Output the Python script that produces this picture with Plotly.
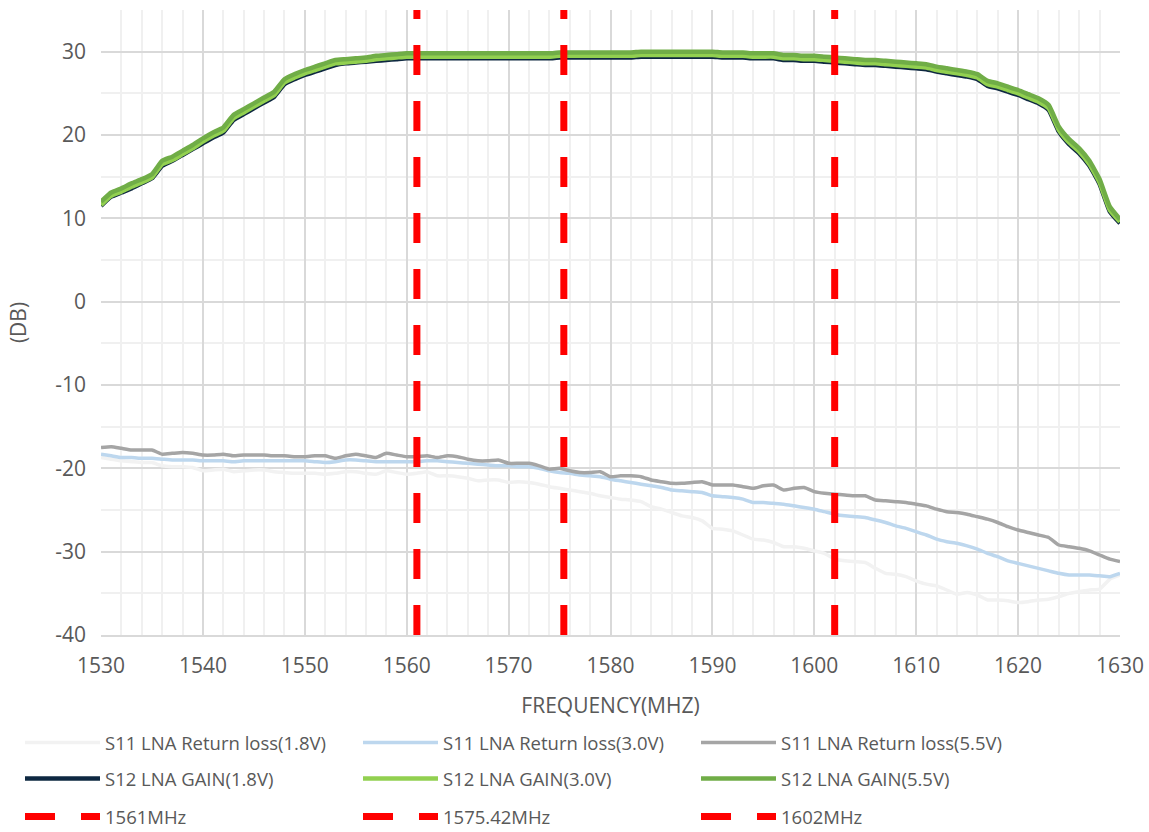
import plotly.graph_objects as go

freq = list(range(1530, 1631))

s11_18 = [-18.7,-18.9,-19.1,-19.2,-19.3,-19.3,-19.7,-19.8,-19.8,-19.9,
          -20.3,-20.2,-20.1,-20.4,-20.3,-20.2,-20.2,-20.4,-20.5,-20.6,
          -20.6,-20.6,-20.7,-20.6,-20.4,-20.4,-20.6,-20.7,-20.3,-20.5,
          -20.7,-20.6,-20.4,-20.9,-20.9,-21.0,-21.2,-21.5,-21.4,-21.4,
          -21.7,-21.6,-21.7,-21.9,-22.2,-22.4,-22.6,-22.8,-23.0,-23.3,
          -23.5,-23.7,-23.8,-24.0,-24.6,-24.9,-25.3,-25.7,-25.9,-26.3,
          -27.2,-27.3,-27.5,-28.0,-28.5,-28.6,-28.9,-29.4,-29.4,-29.6,
          -29.9,-30.2,-30.9,-31.1,-31.2,-31.3,-32.0,-32.6,-32.7,-33.0,
          -33.5,-33.9,-34.1,-34.6,-35.1,-34.9,-35.2,-35.8,-35.8,-35.9,
          -36.1,-36.0,-35.8,-35.7,-35.4,-35.0,-34.8,-34.6,-34.5,-33.3,
          -32.8]

s11_30 = [-18.3,-18.5,-18.7,-18.7,-18.8,-18.8,-18.9,-19.0,-19.0,-19.0,
          -19.1,-19.1,-19.1,-19.2,-19.1,-19.1,-19.1,-19.1,-19.1,-19.1,
          -19.1,-19.2,-19.3,-19.2,-19.0,-19.0,-19.1,-19.2,-19.2,-19.2,
          -19.2,-19.2,-19.1,-19.1,-19.2,-19.3,-19.4,-19.5,-19.6,-19.7,
          -19.7,-19.8,-19.8,-20.0,-20.3,-20.5,-20.6,-20.8,-20.9,-21.0,
          -21.3,-21.5,-21.7,-21.9,-22.1,-22.3,-22.6,-22.7,-22.8,-22.9,
          -23.3,-23.4,-23.5,-23.7,-24.1,-24.1,-24.2,-24.3,-24.5,-24.7,
          -24.9,-25.2,-25.5,-25.7,-25.8,-25.9,-26.2,-26.5,-26.9,-27.2,
          -27.6,-28.0,-28.5,-28.8,-29.0,-29.3,-29.7,-30.2,-30.6,-31.1,
          -31.4,-31.7,-32.0,-32.3,-32.6,-32.8,-32.8,-32.8,-32.9,-33.0,
          -32.6]

s11_55 = [-17.5,-17.4,-17.6,-17.8,-17.8,-17.8,-18.3,-18.2,-18.1,-18.2,
          -18.4,-18.4,-18.3,-18.5,-18.4,-18.4,-18.4,-18.5,-18.5,-18.6,
          -18.6,-18.5,-18.5,-18.8,-18.5,-18.3,-18.5,-18.7,-18.2,-18.4,
          -18.6,-18.6,-18.5,-18.7,-18.5,-18.6,-18.9,-19.1,-19.1,-19.0,
          -19.4,-19.4,-19.4,-19.7,-20.1,-20.0,-20.3,-20.5,-20.5,-20.4,
          -21.0,-20.9,-20.9,-21.0,-21.4,-21.6,-21.8,-21.8,-21.7,-21.6,
          -22.0,-22.0,-22.0,-22.2,-22.4,-22.1,-22.0,-22.6,-22.4,-22.3,
          -22.8,-23.0,-23.1,-23.2,-23.3,-23.3,-23.8,-23.9,-24.0,-24.1,
          -24.3,-24.5,-24.9,-25.2,-25.3,-25.5,-25.8,-26.1,-26.5,-27.0,
          -27.4,-27.7,-28.0,-28.3,-29.2,-29.4,-29.6,-29.9,-30.4,-30.9,
          -31.2]

gain_18 = [11.5,12.6,13.1,13.6,14.2,14.8,16.3,16.9,17.6,18.3,
           19.0,19.7,20.3,21.8,22.5,23.2,23.9,24.6,26.1,26.7,
           27.2,27.6,28.0,28.4,28.6,28.7,28.8,28.9,29.0,29.1,
           29.2,29.2,29.2,29.2,29.2,29.2,29.2,29.2,29.2,29.2,
           29.2,29.2,29.2,29.2,29.2,29.3,29.3,29.3,29.3,29.3,
           29.3,29.3,29.3,29.4,29.4,29.4,29.4,29.4,29.4,29.4,
           29.4,29.3,29.3,29.3,29.2,29.2,29.2,29.0,29.0,28.9,
           28.9,28.8,28.7,28.6,28.5,28.4,28.4,28.3,28.2,28.1,
           28.0,27.9,27.6,27.4,27.2,27.0,26.7,25.9,25.6,25.2,
           24.8,24.3,23.8,23.0,20.4,18.9,17.8,16.3,14.1,10.8,
           9.4]

gain_30 = [11.6,12.7,13.2,13.8,14.3,14.9,16.5,17.0,17.7,18.4,
           19.2,19.9,20.5,22.0,22.7,23.4,24.1,24.8,26.3,26.9,
           27.4,27.8,28.2,28.6,28.7,28.8,28.9,29.1,29.2,29.3,
           29.4,29.4,29.4,29.4,29.4,29.4,29.4,29.4,29.4,29.4,
           29.4,29.4,29.4,29.4,29.4,29.5,29.5,29.5,29.5,29.5,
           29.5,29.5,29.5,29.6,29.6,29.6,29.6,29.6,29.6,29.6,
           29.6,29.5,29.5,29.5,29.4,29.4,29.4,29.2,29.2,29.1,
           29.1,29.0,28.9,28.8,28.7,28.6,28.6,28.5,28.4,28.3,
           28.2,28.1,27.8,27.6,27.4,27.2,26.9,26.1,25.8,25.4,
           25.0,24.5,24.0,23.2,20.6,19.1,18.0,16.5,14.3,11.0,
           9.6]

gain_55 = [12.0,13.1,13.6,14.2,14.7,15.3,16.9,17.4,18.1,18.8,
           19.6,20.3,20.9,22.4,23.1,23.8,24.5,25.2,26.7,27.3,
           27.8,28.2,28.6,29.0,29.1,29.2,29.3,29.5,29.6,29.7,
           29.8,29.8,29.8,29.8,29.8,29.8,29.8,29.8,29.8,29.8,
           29.8,29.8,29.8,29.8,29.8,29.9,29.9,29.9,29.9,29.9,
           29.9,29.9,29.9,30.0,30.0,30.0,30.0,30.0,30.0,30.0,
           30.0,29.9,29.9,29.9,29.8,29.8,29.8,29.6,29.6,29.5,
           29.5,29.4,29.3,29.2,29.1,29.0,29.0,28.9,28.8,28.7,
           28.6,28.5,28.2,28.0,27.8,27.6,27.3,26.5,26.2,25.8,
           25.4,24.9,24.4,23.6,21.0,19.5,18.4,16.9,14.7,11.4,
           9.9]

marker_freqs = [1561, 1575.42, 1602]
marker_names = ["1561MHz", "1575.42MHz", "1602MHz"]

y_ticks = [-40, -30, -20, -10, 0, 10, 20, 30]
y_tick_labels = ["-40", "-30", "-20", "-10", "0", "10", "20", "30"]

y_min, y_max = -40, 35
x_min, x_max = 1530, 1630

fig = go.Figure()

s11_series = [
    ("S11 LNA Return loss(1.8V)", s11_18, "#f2f2f2"),
    ("S11 LNA Return loss(3.0V)", s11_30, "#bdd7ee"),
    ("S11 LNA Return loss(5.5V)", s11_55, "#a5a5a5"),
]
for name, ys, col in s11_series:
    fig.add_trace(go.Scatter(x=freq, y=ys, name=name, mode="lines",
                             line=dict(color=col, width=3.5, shape="spline", smoothing=0.4),
                             legend="legend"))

gain_series = [
    ("S12 LNA GAIN(1.8V)", gain_18, "#0e2841"),
    ("S12 LNA GAIN(3.0V)", gain_30, "#92d050"),
    ("S12 LNA GAIN(5.5V)", gain_55, "#70ad47"),
]
for name, ys, col in gain_series:
    fig.add_trace(go.Scatter(x=freq, y=ys, name=name, mode="lines",
                             line=dict(color=col, width=4.5, shape="spline", smoothing=0.4),
                             legend="legend2"))

for f, name in zip(marker_freqs, marker_names):
    fig.add_trace(go.Scatter(x=[f, f], y=[y_min, y_max], name=name, mode="lines",
                             line=dict(color="#ff0000", width=7, dash="30px,26px"),
                             legend="legend3"))

font_fam = "Open Sans"
txt = "#595959"

leg_common = dict(orientation="h", xanchor="left", yanchor="middle",
                  xref="container", yref="container",
                  entrywidth=248, entrywidthmode="pixels", itemwidth=75,
                  font=dict(family=font_fam, size=18.5, color=txt),
                  bgcolor="rgba(0,0,0,0)", traceorder="normal")

leg_x = 20 / 1149

fig.update_layout(
    width=1149, height=832,
    margin=dict(l=101, r=29, t=10, b=197, autoexpand=False),
    paper_bgcolor="white", plot_bgcolor="white",
    showlegend=True,
    legend=dict(x=leg_x, y=(832 - 743) / 832, **leg_common),
    legend2=dict(x=leg_x, y=(832 - 779) / 832, **leg_common),
    legend3=dict(x=leg_x, y=(832 - 817) / 832, **leg_common),
    xaxis=dict(range=[x_min, x_max], dtick=10, tick0=1530,
               showgrid=True, gridcolor="#d9d9d9", gridwidth=1.5,
               minor=dict(dtick=2, showgrid=True, gridcolor="#f0f0f0", gridwidth=1.5),
               zeroline=False, showline=True, linecolor="#d9d9d9", linewidth=1.5,
               ticks="", ticklabelstandoff=11,
               tickfont=dict(family=font_fam, size=21, color=txt),
               title=dict(text="FREQUENCY(MHZ)", standoff=20,
                          font=dict(family=font_fam, size=21, color=txt))),
    yaxis=dict(range=[y_min, y_max], tickvals=y_ticks, ticktext=y_tick_labels,
               showgrid=True, gridcolor="#d9d9d9", gridwidth=1.5,
               minor=dict(dtick=5, showgrid=True, gridcolor="#f0f0f0", gridwidth=1.5),
               zeroline=False, showline=False,
               ticks="", ticklabelstandoff=14,
               tickfont=dict(family=font_fam, size=21, color=txt),
               title=dict(text="(DB)", standoff=22,
                          font=dict(family=font_fam, size=21, color=txt))),
)

fig.write_html("out.html")
